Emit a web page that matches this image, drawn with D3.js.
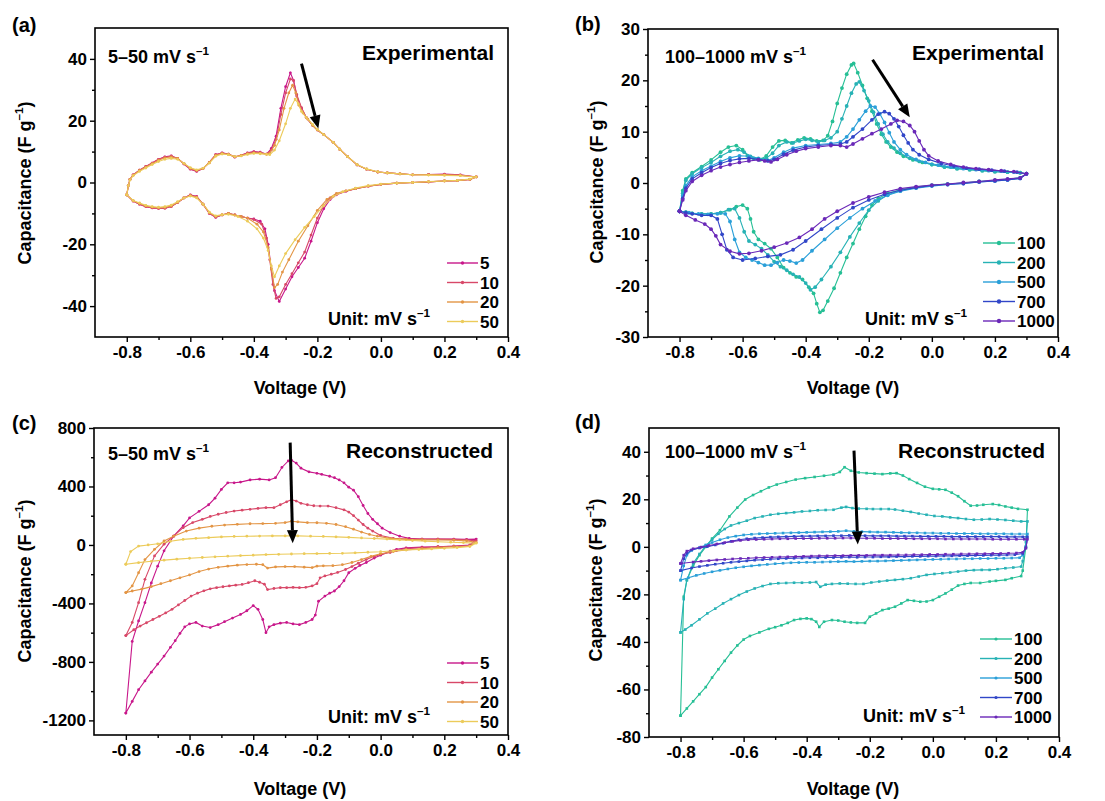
<!DOCTYPE html>
<html>
<head>
<meta charset="utf-8">
<script src="https://cdn.jsdelivr.net/npm/d3@7/dist/d3.min.js"></script>
<style>
  body { margin: 0; background: #fff; }
  text { font-family: "Liberation Sans", Arial, sans-serif; }
</style>
</head>
<body>
<svg id="chart" width="1105" height="801"></svg>
<script>
// ---- tick values ----
const xMajor = [-0.8, -0.6, -0.4, -0.2, 0.0, 0.2, 0.4];
const xMinor = [-0.7, -0.5, -0.3, -0.1, 0.1, 0.3];
const yMajorA = [-40, -20, 0, 20, 40];
const yMinorA = [-30, -10, 10, 30];
const yMajorB = [-30, -20, -10, 0, 10, 20, 30];
const yMinorB = [-25, -15, -5, 5, 15, 25];
const yMajorC = [-1200, -800, -400, 0, 400, 800];
const yMinorC = [-1000, -600, -200, 200, 600];
const yMajorD = [-80, -60, -40, -20, 0, 20, 40];
const yMinorD = [-70, -50, -30, -10, 10, 30];

// ---- scan rates (mV/s) ----
const slowRates = ["5", "10", "20", "50"];
const fastRates = ["100", "200", "500", "700", "1000"];

// ---- (a) experimental, 5-50 mV/s : [V, F/g], anodic then cathodic ----
const a5 = [[-0.80,-4],[-0.795,-1],[-0.79,1],[-0.78,2.5],[-0.76,4],[-0.74,5.2],[-0.72,6.3],[-0.70,7.5],[-0.68,8.3],[-0.66,8.6],[-0.64,7.8],[-0.62,6],[-0.60,4.3],[-0.58,3.6],[-0.56,4.5],[-0.54,6.5],[-0.52,9],[-0.50,9.6],[-0.48,9.2],[-0.46,8.2],[-0.44,8.8],[-0.42,9.6],[-0.40,10],[-0.38,9.8],[-0.36,9.2],[-0.345,11],[-0.33,15],[-0.315,24],[-0.30,31],[-0.285,35.5],[-0.275,33],[-0.265,28],[-0.25,24],[-0.235,21],[-0.215,18.5],[-0.20,17],[-0.18,15.5],[-0.15,13],[-0.13,10.8],[-0.105,8.4],[-0.075,5.7],[-0.045,4.3],[-0.01,3.4],[0.02,3.1],[0.06,2.8],[0.10,2.5],[0.15,2.6],[0.20,2.7],[0.25,2.5],[0.30,1.8],
  [0.28,1],[0.24,0.6],[0.20,0.5],[0.15,0.2],[0.10,0],[0.05,-0.2],[0.00,-0.6],[-0.04,-1.2],[-0.08,-2],[-0.11,-2.8],[-0.14,-4],[-0.16,-5.5],[-0.18,-8.5],[-0.20,-13],[-0.22,-19],[-0.24,-24.5],[-0.26,-27.5],[-0.28,-30.5],[-0.30,-34.5],[-0.32,-38.5],[-0.335,-35],[-0.345,-28],[-0.355,-20],[-0.365,-15],[-0.38,-12.5],[-0.40,-11.8],[-0.42,-11.5],[-0.44,-11],[-0.46,-10.5],[-0.48,-10],[-0.50,-10.5],[-0.52,-11.3],[-0.54,-10],[-0.56,-7],[-0.58,-4.5],[-0.60,-4],[-0.62,-5],[-0.64,-6.5],[-0.66,-7.8],[-0.68,-8.3],[-0.70,-8.4],[-0.72,-8.2],[-0.74,-7.8],[-0.76,-7],[-0.78,-6],[-0.80,-4]];
const a10 = [[-0.80,-4],[-0.795,-1],[-0.79,1],[-0.78,2.5],[-0.76,4],[-0.74,5.2],[-0.72,6.3],[-0.70,7.5],[-0.68,8.2],[-0.66,8.5],[-0.64,7.8],[-0.62,6],[-0.60,4.4],[-0.58,3.7],[-0.56,4.5],[-0.54,6.5],[-0.52,9],[-0.50,9.5],[-0.48,9.2],[-0.46,8.3],[-0.44,8.8],[-0.42,9.5],[-0.40,9.9],[-0.38,9.7],[-0.36,9.2],[-0.345,10.5],[-0.33,14],[-0.315,22],[-0.30,29],[-0.285,33.5],[-0.275,33],[-0.265,28.5],[-0.25,24.2],[-0.235,21],[-0.215,18.5],[-0.20,17],[-0.18,15.5],[-0.15,13],[-0.13,10.8],[-0.105,8.4],[-0.075,5.7],[-0.045,4.3],[-0.01,3.4],[0.02,3.1],[0.06,2.8],[0.10,2.5],[0.15,2.6],[0.20,2.6],[0.25,2.4],[0.30,1.8],
  [0.28,1],[0.24,0.6],[0.20,0.5],[0.15,0.2],[0.10,0],[0.05,-0.2],[0.00,-0.6],[-0.04,-1.2],[-0.08,-2],[-0.11,-2.8],[-0.14,-3.8],[-0.16,-5],[-0.18,-7.5],[-0.20,-11.5],[-0.22,-17],[-0.24,-22.5],[-0.26,-26],[-0.28,-29.5],[-0.30,-33],[-0.32,-37],[-0.33,-37.5],[-0.34,-33],[-0.35,-25],[-0.36,-18],[-0.375,-13.5],[-0.40,-12],[-0.42,-11.5],[-0.44,-11],[-0.46,-10.5],[-0.48,-10],[-0.50,-10.5],[-0.52,-11.2],[-0.54,-10],[-0.56,-7],[-0.58,-4.6],[-0.60,-4.1],[-0.62,-5],[-0.64,-6.5],[-0.66,-7.8],[-0.68,-8.3],[-0.70,-8.4],[-0.72,-8.2],[-0.74,-7.8],[-0.76,-7],[-0.78,-6],[-0.80,-4]];
const a20 = [[-0.80,-4],[-0.795,-1],[-0.79,1],[-0.78,2.4],[-0.76,3.9],[-0.74,5],[-0.72,6.1],[-0.70,7.2],[-0.68,8],[-0.66,8.3],[-0.64,7.8],[-0.62,6.2],[-0.60,4.6],[-0.58,3.9],[-0.56,4.6],[-0.54,6.5],[-0.52,8.8],[-0.50,9.4],[-0.48,9.1],[-0.46,8.3],[-0.44,8.7],[-0.42,9.3],[-0.40,9.6],[-0.38,9.5],[-0.36,9.2],[-0.35,9.5],[-0.335,12],[-0.32,17],[-0.305,24],[-0.29,29],[-0.278,31.5],[-0.268,29],[-0.258,25],[-0.245,22.5],[-0.23,20.5],[-0.215,18.5],[-0.20,17],[-0.18,15.5],[-0.15,13],[-0.13,10.8],[-0.105,8.4],[-0.075,5.7],[-0.045,4.3],[-0.01,3.4],[0.02,3.1],[0.06,2.8],[0.10,2.5],[0.15,2.5],[0.20,2.5],[0.25,2.3],[0.30,1.8],
  [0.28,1],[0.24,0.6],[0.20,0.5],[0.15,0.2],[0.10,0],[0.05,-0.2],[0.00,-0.6],[-0.04,-1.2],[-0.08,-2],[-0.11,-2.7],[-0.14,-3.5],[-0.17,-5.5],[-0.20,-9],[-0.23,-14],[-0.26,-19],[-0.29,-25],[-0.31,-29],[-0.325,-33],[-0.335,-34],[-0.345,-28],[-0.355,-21],[-0.37,-16],[-0.39,-13.5],[-0.42,-11.5],[-0.44,-11],[-0.46,-10.5],[-0.48,-10],[-0.50,-10.5],[-0.52,-11],[-0.54,-9.8],[-0.56,-7],[-0.58,-4.8],[-0.60,-4.2],[-0.62,-5],[-0.64,-6.4],[-0.66,-7.6],[-0.68,-8.1],[-0.70,-8.2],[-0.72,-8],[-0.74,-7.6],[-0.76,-6.8],[-0.78,-5.9],[-0.80,-4]];
const a50 = [[-0.80,-4],[-0.795,-1],[-0.79,0.8],[-0.78,2.2],[-0.76,3.6],[-0.74,4.7],[-0.72,5.8],[-0.70,6.8],[-0.68,7.5],[-0.66,7.8],[-0.64,7.5],[-0.62,6.2],[-0.60,4.8],[-0.58,4.1],[-0.56,4.6],[-0.54,6.3],[-0.52,8.5],[-0.50,9.2],[-0.48,9],[-0.46,8.4],[-0.44,8.6],[-0.42,9.1],[-0.40,9.4],[-0.38,9.3],[-0.36,9.1],[-0.35,9],[-0.335,10.5],[-0.32,13.5],[-0.30,19],[-0.285,24],[-0.27,27],[-0.26,25.5],[-0.25,23],[-0.235,21],[-0.215,18.8],[-0.20,17.2],[-0.18,15.5],[-0.15,13],[-0.13,10.8],[-0.105,8.4],[-0.075,5.8],[-0.045,4.4],[-0.01,3.5],[0.02,3.1],[0.06,2.8],[0.10,2.5],[0.15,2.4],[0.20,2.3],[0.25,2.2],[0.30,1.8],
  [0.28,1.1],[0.24,0.7],[0.20,0.5],[0.15,0.3],[0.10,0],[0.05,-0.2],[0.00,-0.5],[-0.04,-1],[-0.08,-1.8],[-0.12,-3],[-0.15,-4.5],[-0.18,-7.5],[-0.21,-11],[-0.24,-14.5],[-0.27,-18.5],[-0.30,-23],[-0.32,-27],[-0.335,-30.5],[-0.345,-27],[-0.355,-22],[-0.37,-18],[-0.39,-15],[-0.42,-12.5],[-0.45,-11],[-0.48,-10.3],[-0.50,-10.4],[-0.52,-10.8],[-0.54,-9.6],[-0.56,-7],[-0.58,-5],[-0.60,-4.4],[-0.62,-5],[-0.64,-6.2],[-0.66,-7.3],[-0.68,-7.8],[-0.70,-8],[-0.72,-7.8],[-0.74,-7.4],[-0.76,-6.6],[-0.78,-5.8],[-0.80,-4]];

// ---- (b) experimental, 100-1000 mV/s ----
const b100 = [[-0.80,-5.5],[-0.79,-1.5],[-0.78,0.8],[-0.76,2],[-0.73,3.2],[-0.70,4.5],[-0.67,6],[-0.645,7],[-0.62,7.3],[-0.60,6.5],[-0.585,5.3],[-0.565,4.8],[-0.545,4.5],[-0.525,5.3],[-0.505,7],[-0.485,8.2],[-0.465,8.3],[-0.445,7.8],[-0.425,8.4],[-0.405,8.8],[-0.385,8.6],[-0.365,8.2],[-0.345,8.3],[-0.33,9.2],[-0.315,12],[-0.30,15.5],[-0.285,18.5],[-0.27,21.2],[-0.255,23],[-0.248,23.3],[-0.235,21.5],[-0.22,19],[-0.205,16.5],[-0.19,14],[-0.175,11.5],[-0.16,9.5],[-0.145,8],[-0.13,7],[-0.11,6],[-0.09,5.2],[-0.06,4.5],[-0.03,4],[0.0,3.6],[0.04,3.1],[0.08,2.8],[0.12,2.6],[0.16,2.4],[0.20,2.2],[0.24,2.1],[0.28,2],[0.30,1.8],
  [0.28,1],[0.24,0.7],[0.20,0.5],[0.15,0.3],[0.10,0],[0.05,-0.2],[0.0,-0.4],[-0.05,-0.8],[-0.10,-1.3],[-0.14,-2],[-0.17,-3],[-0.19,-4.3],[-0.21,-6.5],[-0.23,-9],[-0.25,-11.8],[-0.27,-14.5],[-0.29,-17.5],[-0.31,-20.5],[-0.33,-23],[-0.345,-24.8],[-0.355,-25.2],[-0.365,-23.5],[-0.375,-21.5],[-0.39,-20.3],[-0.41,-18.8],[-0.43,-18.3],[-0.45,-17.5],[-0.47,-16.5],[-0.49,-14.5],[-0.51,-12.8],[-0.53,-11.8],[-0.55,-11],[-0.565,-9.5],[-0.575,-7],[-0.585,-5],[-0.60,-4.3],[-0.62,-4.6],[-0.64,-5.2],[-0.67,-5.8],[-0.70,-6],[-0.73,-6],[-0.76,-5.9],[-0.78,-5.7],[-0.80,-5.5]];
const b200 = [[-0.80,-5.5],[-0.79,-2],[-0.78,0.5],[-0.76,1.8],[-0.73,3],[-0.70,4],[-0.67,5.2],[-0.64,6.2],[-0.615,6.5],[-0.595,6],[-0.575,5.2],[-0.55,4.8],[-0.525,4.8],[-0.505,5.8],[-0.485,7.3],[-0.46,8],[-0.44,7.8],[-0.42,8.2],[-0.40,8.5],[-0.38,8.3],[-0.36,8],[-0.34,8.3],[-0.32,8.8],[-0.30,10],[-0.285,12.5],[-0.27,15],[-0.255,17.5],[-0.24,19.3],[-0.23,19.7],[-0.215,18],[-0.20,16],[-0.185,13.8],[-0.17,11.5],[-0.155,9.5],[-0.14,8],[-0.12,6.8],[-0.10,5.8],[-0.07,4.8],[-0.04,4.2],[0.0,3.6],[0.04,3.1],[0.08,2.8],[0.12,2.6],[0.16,2.4],[0.20,2.2],[0.24,2.1],[0.28,2],[0.30,1.8],
  [0.28,1],[0.24,0.7],[0.20,0.5],[0.15,0.3],[0.10,0],[0.05,-0.2],[0.0,-0.5],[-0.05,-0.9],[-0.10,-1.5],[-0.14,-2.3],[-0.17,-3.5],[-0.20,-5.3],[-0.23,-7.8],[-0.26,-10.5],[-0.29,-13.5],[-0.32,-16.3],[-0.35,-18.8],[-0.37,-20.3],[-0.385,-20.8],[-0.40,-19.5],[-0.42,-18.3],[-0.44,-17.8],[-0.46,-17],[-0.48,-16.3],[-0.50,-15.3],[-0.52,-14],[-0.54,-12.8],[-0.56,-12],[-0.58,-11.3],[-0.595,-9.5],[-0.61,-6.8],[-0.625,-5],[-0.645,-5.2],[-0.67,-5.8],[-0.70,-6],[-0.73,-6],[-0.76,-5.9],[-0.78,-5.7],[-0.80,-5.5]];
const b500 = [[-0.80,-5.5],[-0.79,-2.5],[-0.78,-0.5],[-0.76,1.2],[-0.73,2.4],[-0.70,3.3],[-0.67,4.2],[-0.64,4.9],[-0.61,5.3],[-0.58,5.2],[-0.55,4.7],[-0.52,4.4],[-0.50,4.9],[-0.47,6],[-0.44,6.8],[-0.40,7.3],[-0.36,7.5],[-0.32,7.7],[-0.29,8],[-0.27,9],[-0.25,10.5],[-0.23,12.3],[-0.21,14],[-0.195,15],[-0.18,14.8],[-0.165,13.5],[-0.15,11.8],[-0.135,9.8],[-0.12,8],[-0.10,6.5],[-0.08,5.5],[-0.05,4.6],[-0.02,4],[0.02,3.5],[0.06,3.1],[0.10,2.8],[0.14,2.6],[0.18,2.4],[0.22,2.3],[0.26,2.1],[0.30,1.8],
  [0.28,0.9],[0.24,0.6],[0.20,0.4],[0.15,0.2],[0.10,-0.1],[0.05,-0.3],[0.0,-0.6],[-0.05,-1],[-0.10,-1.6],[-0.14,-2.4],[-0.18,-3.5],[-0.22,-5],[-0.26,-6.8],[-0.30,-8.8],[-0.34,-11],[-0.38,-13.2],[-0.41,-15],[-0.43,-15.6],[-0.45,-15.2],[-0.47,-15],[-0.49,-15.5],[-0.51,-16],[-0.53,-16],[-0.55,-15.5],[-0.57,-15],[-0.59,-14.5],[-0.61,-13.5],[-0.625,-11],[-0.64,-7.5],[-0.655,-6],[-0.68,-6],[-0.71,-6.1],[-0.74,-6],[-0.77,-5.8],[-0.80,-5.5]];
const b700 = [[-0.80,-5.5],[-0.79,-3],[-0.78,-1],[-0.76,0.8],[-0.73,2],[-0.70,3],[-0.67,3.8],[-0.64,4.4],[-0.61,4.7],[-0.58,4.8],[-0.55,4.6],[-0.52,4.3],[-0.50,4.6],[-0.47,5.6],[-0.44,6.4],[-0.40,7],[-0.36,7.3],[-0.32,7.5],[-0.29,7.6],[-0.27,8],[-0.25,9],[-0.22,10.5],[-0.19,12.3],[-0.17,13.4],[-0.15,13.9],[-0.135,13.5],[-0.12,12.5],[-0.105,11],[-0.09,9.3],[-0.075,7.8],[-0.06,6.5],[-0.04,5.5],[-0.01,4.6],[0.03,3.8],[0.07,3.3],[0.11,2.9],[0.15,2.7],[0.19,2.5],[0.23,2.3],[0.27,2.1],[0.30,1.8],
  [0.28,0.9],[0.24,0.6],[0.20,0.4],[0.15,0.2],[0.10,-0.1],[0.05,-0.3],[0.0,-0.5],[-0.05,-0.9],[-0.10,-1.4],[-0.15,-2.2],[-0.20,-3.3],[-0.25,-4.8],[-0.30,-6.8],[-0.35,-9],[-0.40,-11.3],[-0.44,-13],[-0.48,-14],[-0.52,-14.3],[-0.56,-14.7],[-0.60,-15],[-0.63,-14.5],[-0.65,-13],[-0.665,-10],[-0.68,-7],[-0.70,-6.3],[-0.73,-6.3],[-0.76,-6],[-0.78,-5.8],[-0.80,-5.5]];
const b1000 = [[-0.80,-5.5],[-0.79,-3.3],[-0.78,-1.5],[-0.76,0.3],[-0.73,1.5],[-0.70,2.4],[-0.67,3.1],[-0.64,3.6],[-0.61,4],[-0.58,4.3],[-0.55,4.5],[-0.53,4.3],[-0.51,4.1],[-0.49,4.6],[-0.46,5.5],[-0.43,6.2],[-0.40,6.7],[-0.36,7],[-0.32,7.3],[-0.29,7.3],[-0.27,7],[-0.25,7.6],[-0.22,8.6],[-0.19,9.6],[-0.16,10.5],[-0.13,11.5],[-0.11,12.2],[-0.09,12],[-0.07,11.2],[-0.055,10],[-0.04,8.2],[-0.025,6.5],[-0.01,5.3],[0.02,4.3],[0.06,3.6],[0.10,3.1],[0.14,2.8],[0.18,2.6],[0.22,2.4],[0.26,2.2],[0.30,1.8],
  [0.28,1],[0.24,0.8],[0.20,0.6],[0.15,0.3],[0.10,0.1],[0.05,-0.2],[0.0,-0.4],[-0.05,-0.7],[-0.10,-1.1],[-0.15,-1.8],[-0.20,-2.7],[-0.25,-3.9],[-0.30,-5.5],[-0.34,-7],[-0.38,-9],[-0.42,-10.6],[-0.46,-11.7],[-0.50,-12.5],[-0.54,-13.2],[-0.58,-13.7],[-0.61,-13.8],[-0.64,-13.3],[-0.67,-12],[-0.685,-10.3],[-0.70,-9],[-0.72,-8],[-0.75,-7.2],[-0.78,-6.3],[-0.80,-5.5]];

// ---- (c) reconstructed, 5-50 mV/s ----
const c5 = [[-0.80,-1150],[-0.78,-660],[-0.76,-520],[-0.74,-395],[-0.72,-260],[-0.70,-145],[-0.68,-40],[-0.65,60],[-0.62,130],[-0.60,185],[-0.57,230],[-0.54,275],[-0.52,320],[-0.50,380],[-0.48,425],[-0.46,425],[-0.44,430],[-0.41,445],[-0.38,450],[-0.35,445],[-0.33,460],[-0.31,530],[-0.29,575],[-0.28,580],[-0.265,560],[-0.25,525],[-0.225,500],[-0.20,490],[-0.185,483],[-0.16,470],[-0.145,460],[-0.13,445],[-0.115,425],[-0.10,395],[-0.085,375],[-0.07,330],[-0.055,270],[-0.04,215],[-0.025,175],[-0.01,145],[0.005,115],[0.03,85],[0.06,60],[0.09,45],[0.13,40],[0.18,40],[0.23,40],[0.27,38],[0.30,40],
  [0.28,0],[0.23,-8],[0.18,-12],[0.13,-15],[0.08,-20],[0.05,-30],[0.03,-42],[0.00,-70],[-0.02,-90],[-0.045,-120],[-0.065,-140],[-0.08,-160],[-0.10,-190],[-0.115,-245],[-0.13,-285],[-0.145,-315],[-0.16,-330],[-0.175,-350],[-0.195,-385],[-0.205,-480],[-0.215,-510],[-0.235,-530],[-0.255,-545],[-0.275,-540],[-0.295,-530],[-0.315,-535],[-0.335,-545],[-0.35,-560],[-0.36,-600],[-0.37,-510],[-0.385,-440],[-0.40,-415],[-0.42,-450],[-0.44,-475],[-0.465,-500],[-0.49,-525],[-0.51,-545],[-0.535,-565],[-0.56,-555],[-0.58,-530],[-0.60,-540],[-0.615,-560],[-0.63,-605],[-0.645,-655],[-0.66,-700],[-0.68,-760],[-0.70,-815],[-0.72,-870],[-0.74,-930],[-0.76,-990],[-0.78,-1070],[-0.80,-1150]];
const c10 = [[-0.80,-620],[-0.78,-530],[-0.76,-395],[-0.74,-235],[-0.71,-75],[-0.68,5],[-0.65,60],[-0.62,118],[-0.59,153],[-0.56,175],[-0.535,195],[-0.51,210],[-0.485,222],[-0.46,232],[-0.435,238],[-0.41,244],[-0.385,250],[-0.36,255],[-0.335,255],[-0.315,275],[-0.295,295],[-0.28,310],[-0.265,300],[-0.25,285],[-0.23,275],[-0.21,268],[-0.19,266],[-0.165,266],[-0.14,255],[-0.115,240],[-0.10,225],[-0.085,200],[-0.07,170],[-0.055,140],[-0.04,115],[-0.025,95],[0.00,65],[0.04,45],[0.08,40],[0.13,40],[0.18,40],[0.23,38],[0.27,35],[0.30,28],
  [0.28,-6],[0.23,-9],[0.18,-12],[0.13,-18],[0.08,-25],[0.05,-38],[0.03,-52],[0.00,-65],[-0.02,-78],[-0.045,-100],[-0.07,-125],[-0.09,-148],[-0.11,-168],[-0.135,-188],[-0.155,-200],[-0.175,-212],[-0.19,-225],[-0.20,-265],[-0.215,-280],[-0.235,-290],[-0.255,-292],[-0.275,-290],[-0.295,-292],[-0.315,-292],[-0.335,-298],[-0.355,-305],[-0.365,-268],[-0.38,-255],[-0.395,-245],[-0.415,-258],[-0.435,-270],[-0.455,-275],[-0.475,-280],[-0.495,-286],[-0.515,-292],[-0.535,-300],[-0.555,-314],[-0.575,-330],[-0.595,-350],[-0.615,-380],[-0.635,-410],[-0.655,-440],[-0.675,-465],[-0.695,-488],[-0.715,-510],[-0.735,-532],[-0.755,-555],[-0.775,-580],[-0.80,-620]];
const c20 = [[-0.80,-326],[-0.78,-280],[-0.76,-190],[-0.74,-100],[-0.71,-30],[-0.68,27],[-0.65,60],[-0.61,95],[-0.57,115],[-0.53,128],[-0.49,136],[-0.45,141],[-0.41,145],[-0.37,146],[-0.33,148],[-0.30,153],[-0.28,162],[-0.26,158],[-0.23,153],[-0.20,152],[-0.17,148],[-0.14,140],[-0.11,125],[-0.085,108],[-0.06,88],[-0.035,72],[-0.01,60],[0.03,45],[0.08,38],[0.13,35],[0.18,34],[0.23,32],[0.27,28],[0.30,18],
  [0.28,-7],[0.23,-12],[0.18,-18],[0.13,-26],[0.08,-34],[0.04,-45],[0.00,-60],[-0.03,-78],[-0.06,-100],[-0.09,-120],[-0.12,-135],[-0.15,-142],[-0.18,-143],[-0.20,-145],[-0.215,-155],[-0.24,-152],[-0.27,-148],[-0.30,-148],[-0.33,-150],[-0.355,-158],[-0.37,-135],[-0.39,-132],[-0.42,-134],[-0.45,-138],[-0.48,-145],[-0.51,-153],[-0.54,-165],[-0.57,-182],[-0.60,-205],[-0.63,-225],[-0.66,-245],[-0.69,-265],[-0.72,-285],[-0.75,-302],[-0.78,-315],[-0.80,-326]];
const c50 = [[-0.80,-132],[-0.785,-45],[-0.76,-8],[-0.73,0],[-0.70,8],[-0.66,25],[-0.62,38],[-0.58,45],[-0.54,50],[-0.50,55],[-0.46,58],[-0.42,60],[-0.38,61],[-0.34,62],[-0.30,62],[-0.26,62],[-0.22,60],[-0.18,58],[-0.14,55],[-0.10,52],[-0.06,48],[-0.02,44],[0.02,40],[0.06,35],[0.10,30],[0.14,26],[0.18,22],[0.22,19],[0.26,16],[0.30,12],
  [0.28,-10],[0.24,-18],[0.20,-23],[0.16,-27],[0.12,-31],[0.08,-34],[0.04,-40],[0.00,-46],[-0.04,-50],[-0.08,-54],[-0.12,-57],[-0.16,-58],[-0.20,-59],[-0.24,-60],[-0.28,-62],[-0.32,-64],[-0.36,-66],[-0.40,-70],[-0.44,-73],[-0.48,-77],[-0.52,-81],[-0.56,-86],[-0.60,-91],[-0.64,-97],[-0.68,-104],[-0.72,-112],[-0.76,-121],[-0.80,-132]];

// ---- (d) reconstructed, 100-1000 mV/s ----
const d100 = [[-0.80,-71],[-0.79,-21],[-0.78,-14],[-0.76,-8],[-0.74,-3.5],[-0.72,0],[-0.70,3.5],[-0.675,7],[-0.645,12.8],[-0.62,16.5],[-0.595,19.9],[-0.57,21.8],[-0.545,23.4],[-0.52,25],[-0.495,26.2],[-0.465,27.3],[-0.435,28.3],[-0.405,28.9],[-0.375,29.4],[-0.345,29.9],[-0.315,30.4],[-0.295,31.5],[-0.28,33.5],[-0.26,32],[-0.235,31.3],[-0.21,31],[-0.185,30.8],[-0.16,30.6],[-0.135,30.9],[-0.115,31],[-0.095,30],[-0.075,28.5],[-0.05,26.9],[-0.025,25.3],[0.0,24.4],[0.02,24.2],[0.04,24],[0.06,22.8],[0.08,21.3],[0.10,19.2],[0.12,17.3],[0.14,17.4],[0.16,17.7],[0.19,18],[0.21,17.6],[0.23,17],[0.25,16.5],[0.27,16],[0.30,15.6],
  [0.295,0],[0.285,-10],[0.28,-12.3],[0.25,-13.2],[0.23,-13.9],[0.20,-14.3],[0.18,-14.6],[0.15,-15.2],[0.12,-15.2],[0.10,-15.6],[0.08,-16.3],[0.06,-18],[0.04,-19.6],[0.02,-21],[0.0,-22.4],[-0.02,-23],[-0.04,-23.1],[-0.06,-22.7],[-0.08,-22.4],[-0.10,-23.8],[-0.12,-25.2],[-0.14,-26],[-0.16,-26.6],[-0.18,-28],[-0.20,-29.4],[-0.215,-32],[-0.24,-32],[-0.26,-31.8],[-0.28,-31.5],[-0.30,-31],[-0.32,-30.8],[-0.345,-31.5],[-0.36,-33.7],[-0.37,-31.5],[-0.385,-30.4],[-0.40,-30.1],[-0.42,-30.3],[-0.44,-30.8],[-0.46,-32],[-0.48,-33],[-0.50,-33.8],[-0.52,-34.5],[-0.55,-36],[-0.58,-37.5],[-0.60,-39],[-0.62,-41.5],[-0.64,-44.5],[-0.66,-48],[-0.68,-51.5],[-0.70,-55],[-0.72,-59],[-0.74,-62],[-0.76,-65],[-0.78,-68],[-0.80,-71]];
const d200 = [[-0.80,-36],[-0.79,-22],[-0.78,-14],[-0.76,-7],[-0.74,-3],[-0.72,0.5],[-0.70,3],[-0.68,5.5],[-0.66,7.5],[-0.64,9],[-0.615,10],[-0.59,11],[-0.565,12.1],[-0.54,12.8],[-0.515,13.5],[-0.49,13.9],[-0.465,14.2],[-0.44,14.5],[-0.415,14.9],[-0.39,15.1],[-0.365,15.4],[-0.34,15.5],[-0.315,15.6],[-0.29,16.5],[-0.275,16.8],[-0.255,16.3],[-0.235,16.1],[-0.21,16],[-0.19,15.9],[-0.165,15.9],[-0.14,15.9],[-0.12,15.7],[-0.095,15.2],[-0.07,14.7],[-0.045,14],[-0.02,13.5],[0.005,13],[0.03,12.8],[0.055,12.4],[0.08,12.1],[0.105,11.7],[0.13,11.4],[0.155,11.5],[0.18,11.7],[0.205,11.5],[0.23,11.3],[0.255,11],[0.28,10.7],[0.30,10.7],
  [0.295,2],[0.285,-6],[0.28,-8.3],[0.255,-8.7],[0.23,-9],[0.205,-9.4],[0.18,-9.7],[0.155,-9.7],[0.13,-9.8],[0.105,-10],[0.08,-10.4],[0.055,-10.8],[0.03,-11.1],[0.005,-11.4],[-0.02,-11.8],[-0.045,-12.5],[-0.07,-13.2],[-0.095,-13.6],[-0.12,-13.9],[-0.145,-14.2],[-0.17,-14.6],[-0.195,-15],[-0.22,-15.6],[-0.245,-15.6],[-0.27,-15.5],[-0.295,-15.4],[-0.32,-15.6],[-0.34,-15.9],[-0.357,-16.8],[-0.37,-14.8],[-0.39,-15],[-0.415,-15.1],[-0.44,-15.1],[-0.465,-15.2],[-0.49,-15.3],[-0.515,-15.6],[-0.54,-16.5],[-0.565,-17.5],[-0.59,-18.8],[-0.615,-20.3],[-0.64,-22],[-0.665,-23.8],[-0.69,-26],[-0.715,-28],[-0.74,-30.5],[-0.765,-33],[-0.785,-34.8],[-0.80,-36]];
const d500 = [[-0.80,-14],[-0.79,-8],[-0.78,-3.5],[-0.765,-1.5],[-0.74,-0.3],[-0.72,0.8],[-0.70,1.8],[-0.675,3],[-0.65,3.9],[-0.625,4.5],[-0.60,5],[-0.575,5.3],[-0.55,5.5],[-0.525,5.6],[-0.50,5.7],[-0.475,5.8],[-0.45,5.9],[-0.425,6],[-0.40,6.1],[-0.375,6.2],[-0.35,6.3],[-0.325,6.4],[-0.30,6.5],[-0.275,6.8],[-0.25,6.5],[-0.225,6.4],[-0.20,6.3],[-0.175,6.2],[-0.15,6.2],[-0.125,6.1],[-0.10,6],[-0.075,5.9],[-0.05,5.9],[-0.025,5.8],[0.0,5.8],[0.025,5.7],[0.05,5.7],[0.075,5.6],[0.10,5.6],[0.125,5.6],[0.15,5.5],[0.175,5.5],[0.20,5.5],[0.225,5.5],[0.25,5.4],[0.275,5.4],[0.30,5.4],
  [0.295,0],[0.285,-3.5],[0.275,-4.6],[0.25,-4.7],[0.225,-4.8],[0.20,-4.8],[0.175,-4.9],[0.15,-4.9],[0.125,-5],[0.10,-5],[0.075,-5.1],[0.05,-5.1],[0.025,-5.2],[0.0,-5.3],[-0.025,-5.4],[-0.05,-5.5],[-0.075,-5.6],[-0.10,-5.7],[-0.125,-5.8],[-0.15,-5.9],[-0.175,-6],[-0.20,-6],[-0.225,-6.1],[-0.25,-6.2],[-0.275,-6.1],[-0.30,-6.2],[-0.325,-6.3],[-0.35,-6.4],[-0.375,-6.5],[-0.40,-6.5],[-0.425,-6.6],[-0.45,-6.7],[-0.475,-6.9],[-0.50,-7.1],[-0.525,-7.4],[-0.55,-7.7],[-0.575,-8],[-0.60,-8.4],[-0.625,-8.8],[-0.65,-9.3],[-0.675,-9.9],[-0.70,-10.5],[-0.725,-11.2],[-0.75,-12],[-0.775,-13],[-0.80,-14]];
const d700 = [[-0.80,-10],[-0.79,-5],[-0.78,-2.7],[-0.765,-1.3],[-0.74,-0.5],[-0.715,0.1],[-0.69,0.8],[-0.665,1.5],[-0.64,2.3],[-0.615,3],[-0.59,3.4],[-0.565,3.7],[-0.54,3.9],[-0.515,4.1],[-0.49,4.2],[-0.465,4.3],[-0.44,4.4],[-0.415,4.5],[-0.39,4.5],[-0.365,4.6],[-0.34,4.6],[-0.315,4.7],[-0.29,4.7],[-0.265,4.8],[-0.24,4.7],[-0.215,4.7],[-0.19,4.6],[-0.165,4.6],[-0.14,4.6],[-0.115,4.5],[-0.09,4.5],[-0.065,4.5],[-0.04,4.4],[-0.015,4.4],[0.01,4.4],[0.035,4.4],[0.06,4.3],[0.085,4.3],[0.11,4.3],[0.135,4.3],[0.16,4.3],[0.185,4.3],[0.21,4.3],[0.235,4.2],[0.26,4.2],[0.285,4.2],[0.30,4.2],
  [0.295,-0.5],[0.285,-2.8],[0.26,-3.3],[0.235,-3.4],[0.21,-3.5],[0.185,-3.5],[0.16,-3.6],[0.135,-3.6],[0.11,-3.7],[0.085,-3.7],[0.06,-3.8],[0.035,-3.8],[0.01,-3.9],[-0.015,-3.9],[-0.04,-4],[-0.065,-4],[-0.09,-4.1],[-0.115,-4.1],[-0.14,-4.2],[-0.165,-4.2],[-0.19,-4.3],[-0.215,-4.3],[-0.24,-4.4],[-0.265,-4.3],[-0.29,-4.4],[-0.315,-4.5],[-0.34,-4.5],[-0.365,-4.6],[-0.39,-4.6],[-0.415,-4.7],[-0.44,-4.8],[-0.465,-4.9],[-0.49,-5],[-0.515,-5.2],[-0.54,-5.4],[-0.565,-5.6],[-0.59,-5.9],[-0.615,-6.2],[-0.64,-6.5],[-0.665,-6.9],[-0.69,-7.3],[-0.715,-7.8],[-0.74,-8.3],[-0.765,-8.9],[-0.80,-10]];
const d1000 = [[-0.80,-7],[-0.79,-3.5],[-0.78,-1.8],[-0.76,-0.8],[-0.735,-0.1],[-0.71,0.6],[-0.685,1.2],[-0.66,1.8],[-0.635,2.3],[-0.61,2.7],[-0.585,3],[-0.56,3.1],[-0.535,3.2],[-0.51,3.3],[-0.485,3.4],[-0.46,3.4],[-0.435,3.5],[-0.41,3.5],[-0.385,3.5],[-0.36,3.6],[-0.335,3.6],[-0.31,3.6],[-0.285,3.7],[-0.26,3.7],[-0.235,3.6],[-0.21,3.6],[-0.185,3.6],[-0.16,3.5],[-0.135,3.5],[-0.11,3.5],[-0.085,3.5],[-0.06,3.4],[-0.035,3.4],[-0.01,3.4],[0.015,3.4],[0.04,3.3],[0.065,3.3],[0.09,3.3],[0.115,3.3],[0.14,3.3],[0.165,3.3],[0.19,3.2],[0.215,3.2],[0.24,3.2],[0.265,3.2],[0.29,3.2],[0.30,3.2],
  [0.295,-0.5],[0.285,-2.3],[0.265,-2.6],[0.24,-2.7],[0.215,-2.8],[0.19,-2.8],[0.165,-2.9],[0.14,-2.9],[0.115,-3],[0.09,-3],[0.065,-3.1],[0.04,-3.1],[0.015,-3.2],[-0.01,-3.2],[-0.035,-3.3],[-0.06,-3.3],[-0.085,-3.4],[-0.11,-3.4],[-0.135,-3.5],[-0.16,-3.5],[-0.185,-3.5],[-0.21,-3.6],[-0.235,-3.6],[-0.26,-3.6],[-0.285,-3.7],[-0.31,-3.7],[-0.335,-3.8],[-0.36,-3.8],[-0.385,-3.9],[-0.41,-4],[-0.435,-4.1],[-0.46,-4.2],[-0.485,-4.3],[-0.51,-4.4],[-0.535,-4.5],[-0.56,-4.6],[-0.585,-4.8],[-0.61,-4.9],[-0.635,-5.1],[-0.66,-5.3],[-0.685,-5.5],[-0.71,-5.8],[-0.735,-6.1],[-0.76,-6.4],[-0.80,-7]];

// ---- colours ----
const warmColors = ["#c8178a", "#d84868", "#e39545", "#eccb5a"];
const coolColors = ["#26bf95", "#27b2b5", "#2a9fd8", "#3146c8", "#6a28b8"];

const svg = d3.select("#chart");

function addSupText(g, x, y, main, sup, size, anchor, tail) {
    const t = g.append("text")
        .attr("x", x).attr("y", y)
        .attr("font-size", size)
        .attr("font-weight", "bold")
        .attr("text-anchor", anchor || "start")
        .attr("fill", "#000");
    t.append("tspan").text(main);
    const shift = size * 0.42;
    t.append("tspan").attr("dy", -shift).attr("font-size", size * 0.65).text(sup);
    if (tail) t.append("tspan").attr("dy", shift).text(tail);
    return t;
}

function drawPanel(p) {
    const g = svg.append("g");

    const x = d3.scaleLinear().domain([-0.9, 0.4]).range([p.left, p.right]);
    const y = d3.scaleLinear().domain(p.yDomain).range([p.bottom, p.top]);

    // Ejes: menores
    g.append("g")
        .attr("transform", `translate(0, ${p.bottom})`)
        .call(d3.axisBottom(x).tickValues(xMinor).tickSize(3).tickFormat(""));
    g.append("g")
        .attr("transform", `translate(${p.left}, 0)`)
        .call(d3.axisLeft(y).tickValues(p.yMinor).tickSize(3).tickFormat(""));

    // Ejes: mayores
    g.append("g")
        .attr("class", "bottom axis")
        .attr("transform", `translate(0, ${p.bottom})`)
        .call(d3.axisBottom(x).tickValues(xMajor).tickSize(5).tickPadding(4)
            .tickFormat(d => d.toFixed(1)));
    g.append("g")
        .attr("class", "left axis")
        .attr("transform", `translate(${p.left}, 0)`)
        .call(d3.axisLeft(y).tickValues(p.yMajor).tickSize(5).tickPadding(3)
            .tickFormat(d => String(d)));

    g.selectAll(".domain").remove();
    g.selectAll(".tick line").attr("stroke", "#000").attr("stroke-width", 1.4);
    g.selectAll(".tick text")
        .attr("font-size", 17)
        .attr("font-weight", "bold")
        .attr("fill", "#000")
        .style("font-family", '"Liberation Sans", Arial, sans-serif');

    // Curvas
    const line = d3.line().x(d => x(d[0])).y(d => y(d[1]));
    p.series.forEach((s, i) => {
        const col = p.colors[i];
        g.append("path")
            .datum(s)
            .attr("d", line)
            .attr("fill", "none")
            .attr("stroke", col)
            .attr("stroke-width", 1.1);
        if (p.square) {
            g.selectAll(null).data(s).enter().append("rect")
                .attr("x", d => x(d[0]) - 1.3)
                .attr("y", d => y(d[1]) - 1.3)
                .attr("width", 2.6).attr("height", 2.6)
                .attr("fill", col);
        } else {
            g.selectAll(null).data(s).enter().append("circle")
                .attr("cx", d => x(d[0]))
                .attr("cy", d => y(d[1]))
                .attr("r", p.markerR)
                .attr("fill", col);
        }
    });

    // Marco
    g.append("rect")
        .attr("x", p.left).attr("y", p.top)
        .attr("width", p.right - p.left).attr("height", p.bottom - p.top)
        .attr("fill", "none").attr("stroke", "#000").attr("stroke-width", 1.6);

    // Flecha
    const [a0, a1] = p.arrow;
    const x0 = x(a0[0]), y0 = y(a0[1]), x1 = x(a1[0]), y1 = y(a1[1]);
    const ang = Math.atan2(y1 - y0, x1 - x0);
    const hl = 13, hw = 5.5;
    const bx = x1 - hl * Math.cos(ang), by = y1 - hl * Math.sin(ang);
    g.append("line")
        .attr("x1", x0).attr("y1", y0).attr("x2", bx).attr("y2", by)
        .attr("stroke", "#000").attr("stroke-width", 3);
    g.append("path")
        .attr("d", `M${x1},${y1} L${bx - hw * Math.sin(ang)},${by + hw * Math.cos(ang)} L${bx + hw * Math.sin(ang)},${by - hw * Math.cos(ang)} Z`)
        .attr("fill", "#000");

    // Leyenda
    p.names.forEach((n, i) => {
        const ly = p.legend.y + i * p.legend.dy;
        g.append("line")
            .attr("x1", p.legend.x0).attr("x2", p.legend.x1)
            .attr("y1", ly).attr("y2", ly)
            .attr("stroke", p.colors[i]).attr("stroke-width", 1.4);
        g.append("circle")
            .attr("cx", (p.legend.x0 + p.legend.x1) / 2).attr("cy", ly)
            .attr("r", p.markerR + 0.3).attr("fill", p.colors[i]);
        g.append("text")
            .attr("x", p.legend.x1 + 2).attr("y", ly + 6)
            .attr("font-size", 17).attr("font-weight", "bold")
            .text(n);
    });

    // Textos
    g.append("text")
        .attr("x", p.letter[0]).attr("y", p.letter[1])
        .attr("font-size", 20).attr("font-weight", "bold")
        .text(p.id);
    addSupText(g, p.range[0], p.range[1], p.rangeText, "\u20131", 18);
    g.append("text")
        .attr("x", p.title[0]).attr("y", p.title[1])
        .attr("font-size", 21).attr("font-weight", "bold")
        .attr("text-anchor", "end")
        .text(p.titleText);
    addSupText(g, p.unit[0], p.unit[1], "Unit: mV s", "\u20131", 18);

    g.append("text")
        .attr("x", p.xTitle[0]).attr("y", p.xTitle[1])
        .attr("font-size", 18).attr("font-weight", "bold")
        .attr("text-anchor", "middle")
        .text("Voltage (V)");
    const yt = g.append("g")
        .attr("transform", `translate(${p.yTitle[0]}, ${p.yTitle[1]}) rotate(-90)`);
    addSupText(yt, 0, 0, "Capacitance (F g", "\u20131", 18, "middle", ")");
}

const panels = [
    {
        id: "(a)", left: 95, right: 508, top: 28, bottom: 337,
        yDomain: [-50, 50], yMajor: yMajorA, yMinor: yMinorA,
        series: [a5, a10, a20, a50], names: slowRates, colors: warmColors, markerR: 1.4,
        arrow: [[-0.25, 38.5], [-0.197, 17.5]],
        legend: { x0: 447, x1: 478, y: 263, dy: 19.5 },
        letter: [12, 32], range: [108, 63], rangeText: "5\u201350 mV s",
        title: [494, 60], titleText: "Experimental", unit: [328, 325],
        xTitle: [300, 394], yTitle: [31, 183]
    },
    {
        id: "(b)", left: 648, right: 1058, top: 29, bottom: 337,
        yDomain: [-30, 30], yMajor: yMajorB, yMinor: yMinorB,
        series: [b100, b200, b500, b700, b1000], names: fastRates, colors: coolColors, markerR: 1.9,
        arrow: [[-0.188, 24], [-0.07, 12.8]],
        legend: { x0: 983, x1: 1015, y: 243, dy: 19.5 },
        letter: [575, 31], range: [665, 63], rangeText: "100\u20131000 mV s",
        title: [1044, 60], titleText: "Experimental", unit: [865, 325],
        xTitle: [853, 394], yTitle: [603, 182]
    },
    {
        id: "(c)", left: 94, right: 508, top: 428, bottom: 735,
        yDomain: [-1300, 800], yMajor: yMajorC, yMinor: yMinorC,
        series: [c5, c10, c20, c50], names: slowRates, colors: warmColors, markerR: 1.4,
        arrow: [[-0.284, 700], [-0.276, 12]],
        legend: { x0: 447, x1: 478, y: 663, dy: 19.5 },
        letter: [12, 430], range: [108, 460], rangeText: "5\u201350 mV s",
        title: [493, 458], titleText: "Reconstructed", unit: [328, 723],
        xTitle: [300, 795], yTitle: [31, 581]
    },
    {
        id: "(d)", left: 649, right: 1059, top: 428, bottom: 737,
        yDomain: [-80, 50], yMajor: yMajorD, yMinor: yMinorD,
        series: [d100, d200, d500, d700, d1000], names: fastRates, colors: coolColors, markerR: 1.3, square: true,
        arrow: [[-0.25, 40.5], [-0.238, 1]],
        legend: { x0: 980, x1: 1012, y: 639, dy: 19.5 },
        letter: [575, 429], range: [665, 458], rangeText: "100\u20131000 mV s",
        title: [1045, 458], titleText: "Reconstructed", unit: [863, 722],
        xTitle: [853, 795], yTitle: [602, 580]
    }
];

panels.forEach(drawPanel);
</script>
</body>
</html>
